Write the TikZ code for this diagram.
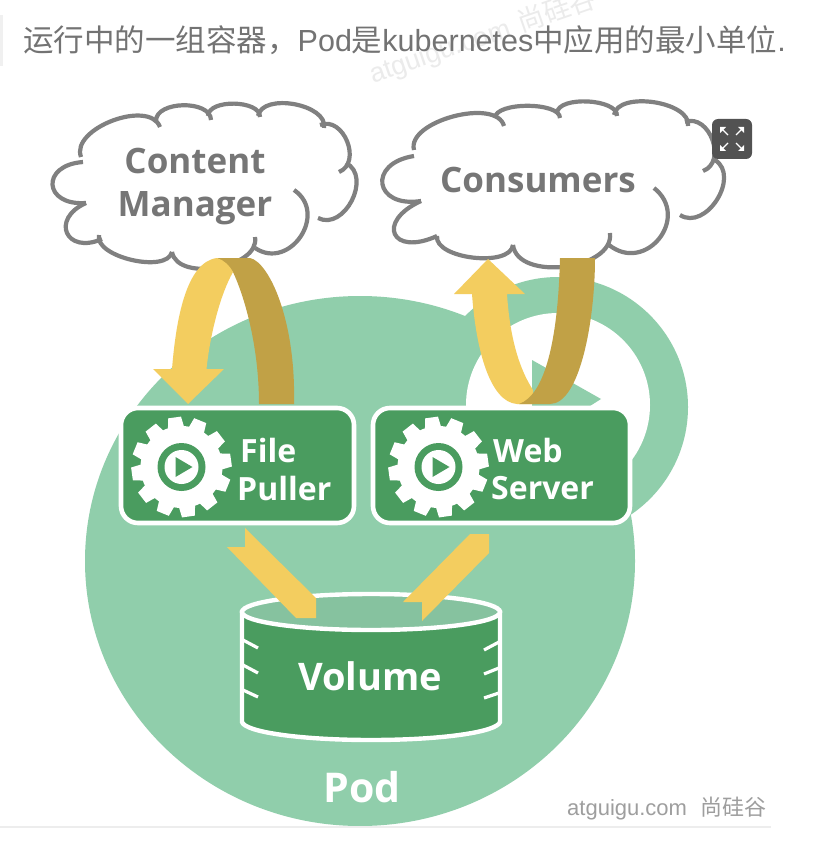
\documentclass[tikz,border=0pt]{standalone}
\usepackage{fontspec}
\usetikzlibrary{calc}
\newfontfamily\labfont{Open Sans}
\newfontfamily\cjkfont{Noto Sans CJK SC}
\newfontfamily\helfont{Liberation Sans}
\definecolor{podgreen}{HTML}{90CEAB}
\definecolor{darkgreen}{HTML}{4A9C5F}
\definecolor{topgreen}{HTML}{86C29F}
\definecolor{yel}{HTML}{F3CD5F}
\definecolor{darkyel}{HTML}{C1A146}
\definecolor{cloudgray}{HTML}{808080}
\definecolor{cloudtext}{HTML}{767676}
\newcommand{\fs}[1]{\fontsize{#1}{#1}\selectfont}
\newcommand{\lobe}[3]{\draw[cloudline] (#1) .. controls ($(#1)!#3!90:(#2)$) and ($(#2)!#3!-90:(#1)$) .. (#2);}
\tikzset{
  cloudline/.style={draw=cloudgray,line width=4.2pt},
  boxnode/.style={draw=white,line width=4.6pt,fill=darkgreen,rounded corners=17pt,inner sep=0pt,outer sep=0pt,anchor=north west},
  cloudtxt/.style={text=cloudtext,font=\labfont\bfseries\fs{35},align=center,inner sep=0pt},
  boxtxt/.style={text=white,font=\labfont\bfseries\fs{32},align=left,inner sep=0pt,anchor=west},
  gearicon/.pic={
    \foreach \a in {0,30,...,330}{
      \fill[white,rotate=\a+8] (37,-8.5) -- (50,-6.5) -- (50,6.5) -- (37,8.5) -- cycle;
    }
    \fill[white] (0,0) circle (41);
    \fill[darkgreen] (0,0) circle (24);
    \fill[white] (0,0) circle (17);
    \fill[darkgreen] (-6,-10) -- (11,0) -- (-6,10) -- cycle;
  }
}
\begin{document}
\begin{tikzpicture}[x=1pt,y=-1pt]
\path[use as bounding box,clip] (0,0) rectangle (812,842);
\fill[white] (0,0) rectangle (812,842);
% header
\fill[black!6] (0,15) rectangle (3,66);
\node[text=black!8,font=\helfont\fs{27},rotate=19,inner sep=0pt] (wmtop) at (483,37) {atguigu.com\hspace{10pt}{\cjkfont 尚硅谷}};
\node[text=black!55,anchor=west,inner sep=0pt,font=\fs{30.5}] (title) at (23,40) {\cjkfont 运行中的一组容器，{\helfont Pod}是{\helfont kubernetes}中应用的最小单位{\helfont .}};
% pod
\fill[podgreen] (360,561) ellipse [x radius=275,y radius=265];
\fill[podgreen] (558,407) circle (130);
\fill[white] (558,405) circle (92);
\fill[podgreen] (532,360) -- (601,399) -- (590,406) -- (532,406) -- cycle;
% cloud left
\lobe{81,157}{160,127}{.36}
\lobe{156,121}{211,120}{.37}
\lobe{208,116}{260,117}{.33}
\lobe{258,116}{324,128}{.36}
\lobe{320,125}{339,172}{.5}
\lobe{346,163}{318,218}{.48}
\lobe{294,190}{255,248}{.6}
\lobe{255,237}{172,252}{.37}
\lobe{172,252}{99,235}{.3}
\lobe{102,239}{86,203}{1.0}
\lobe{86,203}{83,162}{1.04}
% cloud right
\lobe{414,150}{504,126}{.32}
\lobe{495,118}{560,118}{.25}
\lobe{557,113}{617,116}{.29}
\lobe{614,115}{688,126}{.33}
\lobe{685,122}{703,171}{.5}
\lobe{715,160}{680,215}{.47}
\lobe{654,188}{609,245}{.65}
\lobe{610,233}{513,245}{.38}
\lobe{513,245}{437,236}{.3}
\lobe{437,236}{421,201}{1.3}
\lobe{421,201}{414,156}{1.04}
\node[cloudtxt] (contentmgr) at (195,187) {Content\\[8pt]Manager};
\node[cloudtxt] (consumers) at (538,180) {Consumers};
% expand icon
\fill[black!68,rounded corners=6pt] (712,119) rectangle (752,159);
\foreach \sx/\sy in {1/1,1/-1,-1/1,-1/-1}{
  \begin{scope}[shift={(732,139)},xscale=\sx,yscale=\sy]
    \draw[white,line width=1.2pt] (4,4) -- (10,10);
    \fill[white] (12,12) -- (12,6) -- (6,12) -- cycle;
  \end{scope}
}
% loop left
\fill[darkyel] (217,258) -- (250,258) .. controls (269,262) and (296,320) .. (294,404) -- (259,404) .. controls (259,350) and (246,300) .. (233,272) -- cycle;
\fill[yel] (188,404) -- (153,369) -- (172,369) .. controls (176,320) and (186,262) .. (217,258) .. controls (224,260) and (230,266) .. (233,272) .. controls (220,295) and (210,335) .. (206.5,369) -- (224,369) -- cycle;
% loop right
\fill[yel] (488,259) -- (454,294) -- (472,294) .. controls (476,350) and (490,402) .. (517,404) -- (533,404) -- (533,390) .. controls (520,370) and (510,340) .. (507,294) -- (525,294) -- cycle;
\fill[darkyel] (560,258) -- (595,258) .. controls (595,320) and (580,404) .. (550,404) -- (519,404) .. controls (545,395) and (558,340) .. (560,258) -- cycle;
% boxes
\node[boxnode,minimum width=233pt,minimum height=115pt] (filepuller) at (121,408) {};
\node[boxnode,minimum width=257pt,minimum height=115pt] (webserver) at (373,408) {};
\pic at (181.5,467) {gearicon};
\pic at (438.5,467) {gearicon};
\node[boxtxt] (file) at (240,450) {File};
\node[boxtxt] (puller) at (237,488) {Puller};
\node[boxtxt] (web) at (493,450) {Web};
\node[boxtxt] (server) at (491,488) {Server};
% volume
\filldraw[fill=darkgreen,draw=white,line width=4.4pt] (242,612) -- (242,722) .. controls (245,732) and (300,740) .. (371,740) .. controls (442,740) and (497,732) .. (500,722) -- (500,612) -- cycle;
\filldraw[fill=topgreen,draw=white,line width=4.4pt] (371,612) ellipse [x radius=129,y radius=18];
\foreach \ya/\yb in {640/648,665/673,690/697}{
  \draw[white,line width=3.2pt] (243,\ya) -- (258,\yb);
}
\foreach \ya/\yb in {642/650,668/674,693/698}{
  \draw[white,line width=3.2pt] (499,\ya) -- (484,\yb);
}
\node[text=white,font=\labfont\bfseries\fs{38},inner sep=0pt] (volume) at (370,676) {Volume};
% arrows to volume
\fill[yel] (245,528) -- (316,598) -- (316,618) -- (296,618) -- (227,547) -- (245,547) -- cycle;
\fill[yel] (470,534) -- (489,534) -- (489,553) -- (422,621) -- (422,602) -- (403,602) -- cycle;
% pod label
\node[text=white,font=\labfont\bfseries\fs{41},inner sep=0pt] (podlabel) at (362,787) {Pod};
% footer
\node[text=black!38,font=\helfont\fs{22},anchor=west,inner sep=0pt] (wmbottom) at (567,809) {atguigu.com\hspace{13pt}{\cjkfont 尚硅谷}};
\fill[black!7] (0,826) rectangle (771,828);
\end{tikzpicture}
\end{document}
